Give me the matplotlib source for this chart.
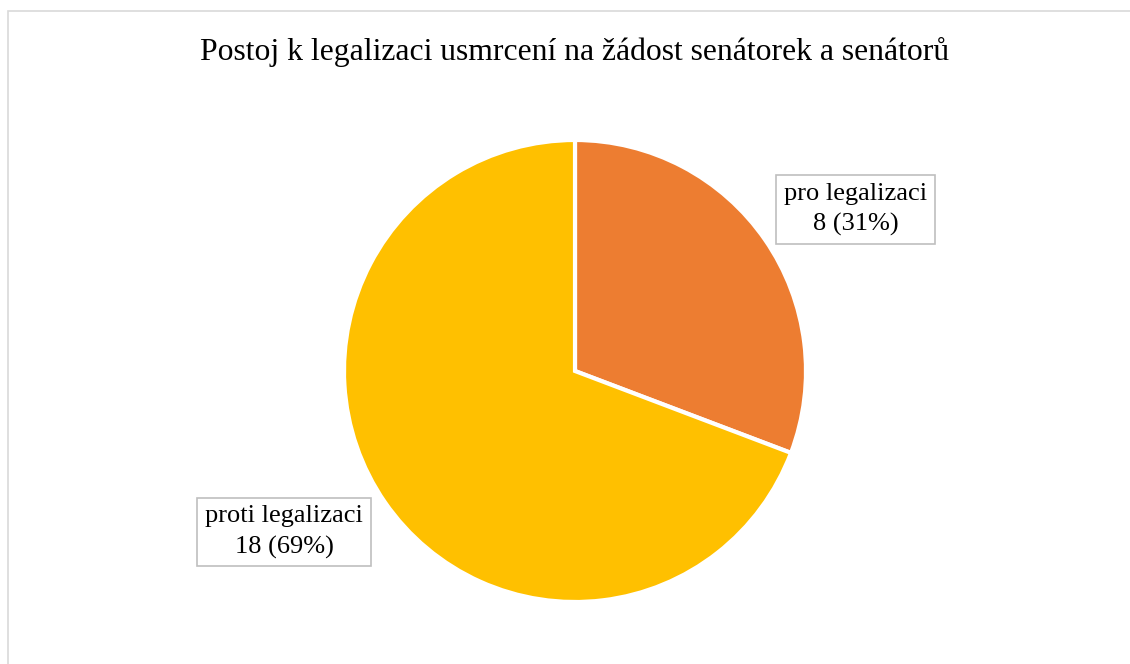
import matplotlib
matplotlib.use("Agg")
import matplotlib.pyplot as plt
from matplotlib.patches import Rectangle

title = "Postoj k legalizaci usmrcení na žádost senátorek a senátorů"
categories = ["pro legalizaci", "proti legalizaci"]
values = [8, 18]
colors = ["#ED7D31", "#FFC000"]

plt.rcParams['font.family'] = ['Liberation Serif', 'DejaVu Serif']

W, H = 1130, 664
fig = plt.figure(figsize=(W / 100, H / 100), dpi=100)
fig.patch.set_facecolor("white")

# chart border (extends beyond right/bottom edges)
fig.patches.append(Rectangle((7.5 / W, -0.1), 1.2, (H - 10.5) / H + 0.1,
                             transform=fig.transFigure, fill=False,
                             edgecolor="#d9d9d9", linewidth=1.2))

cx, cy, r = 575, 371, 231
ax = fig.add_axes([(cx - r) / W, (H - cy - r) / H, 2 * r / W, 2 * r / H])
ax.pie(values, colors=colors, startangle=90, counterclock=False, radius=1,
       wedgeprops=dict(edgecolor="white", linewidth=3))
ax.set_xlim(-1, 1)
ax.set_ylim(-1, 1)
ax.set_aspect("equal")
ax.axis("off")

total = sum(values)
label_pos = [(1.216, 0.701), (-1.26, -0.697)]
for cat, v, (x, y) in zip(categories, values, label_pos):
    ax.text(x, y, f"{cat}\n{v} ({round(v / total * 100)}%)", ha="center", va="center",
            fontsize=19, linespacing=1.45, clip_on=False,
            bbox=dict(boxstyle="square,pad=0.3", facecolor="white",
                      edgecolor="#bfbfbf", linewidth=1.2))

fig.text(575 / W, 1 - 52 / H, title, ha="center", va="center", fontsize=22.8)

fig.savefig("out.png", dpi=100, facecolor="white")
